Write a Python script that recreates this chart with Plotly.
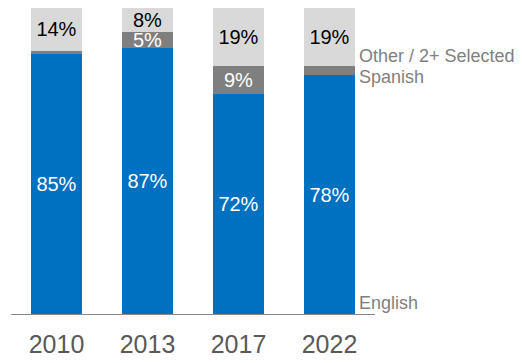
import plotly.graph_objects as go

years = ["2010", "2013", "2017", "2022"]
english = [85, 87, 72, 78]
spanish = [1, 5, 9, 3]
other = [14, 8, 19, 19]

FONT = "Arial, Liberation Sans, sans-serif"


def labels(vals, min_show=5):
    return [f"{v}%" if v >= min_show else "" for v in vals]


fig = go.Figure()
fig.add_trace(go.Bar(x=years, y=english, name="English", marker_color="#0070C0",
                     text=labels(english), textfont=dict(color="white", size=20, family=FONT)))
fig.add_trace(go.Bar(x=years, y=spanish, name="Spanish", marker_color="#7F7F7F",
                     text=labels(spanish), textfont=dict(color="white", size=20, family=FONT)))
fig.add_trace(go.Bar(x=years, y=other, name="Other / 2+ Selected", marker_color="#D9D9D9",
                     text=labels(other), textfont=dict(color="black", size=20, family=FONT)))
fig.update_traces(textposition="inside", insidetextanchor="middle",
                  marker_line_width=0, hoverinfo="skip")

# series names written next to the last bar
for name, y in [("Other / 2+ Selected", 84.2), ("Spanish", 77.6), ("English", 3.6)]:
    fig.add_annotation(x=3.28, y=y, xref="x", yref="y", text=name, showarrow=False,
                       xanchor="left", yanchor="middle", xshift=2,
                       font=dict(size=18, color="#7F7F7F", family=FONT))

# page body adds an 8px margin, so the figure is sized to fit inside it
fig.update_layout(
    barmode="stack",
    bargap=0.44,
    width=514, height=355,
    margin=dict(l=3, r=147, t=0, b=49),
    plot_bgcolor="white", paper_bgcolor="white",
    showlegend=False,
    uniformtext=dict(minsize=20, mode="show"),
    font=dict(family=FONT),
)
fig.update_xaxes(showline=True, linecolor="#888888", linewidth=1, ticks="",
                 tickfont=dict(size=25, color="#595959", family=FONT),
                 ticklabelstandoff=8,
                 range=[-0.5, 3.5], fixedrange=True)
fig.update_yaxes(visible=False, range=[0, 100], fixedrange=True)

fig.write_html("out.html", config={"displayModeBar": False})
